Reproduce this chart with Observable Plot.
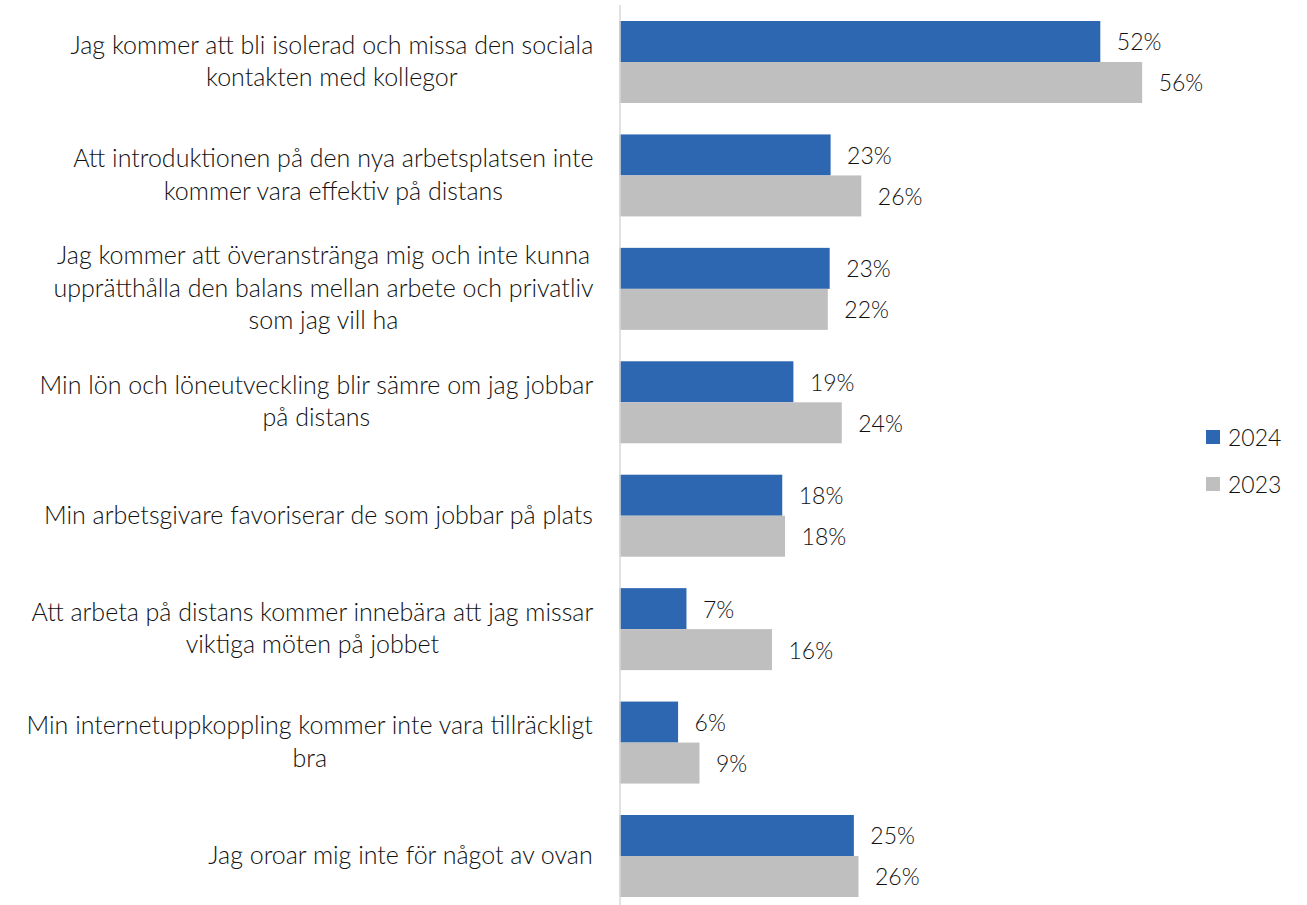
<!DOCTYPE html>
<html>
<head>
<meta charset="utf-8">
<script src="https://cdn.jsdelivr.net/npm/d3@7"></script>
<script src="https://cdn.jsdelivr.net/npm/@observablehq/plot@0.6"></script>
<style>
  html, body { margin: 0; padding: 0; background: #fff; }
  #wrap { position: relative; width: 1307px; height: 905px; }
  .legend { position: absolute; left: 1206px; font-family: Lato, "Open Sans", sans-serif; font-weight: 300; font-size: 23px; color: #111; display: flex; align-items: center; }
  .legend span.sw { display: inline-block; width: 14px; height: 14px; margin-right: 8px; }
</style>
</head>
<body>
<div id="wrap"></div>
<script>
const categories = [
  "Jag kommer att bli isolerad och missa den sociala\nkontakten med kollegor",
  "Att introduktionen på den nya arbetsplatsen inte\nkommer vara effektiv på distans",
  "Jag kommer att överanstränga mig och inte kunna\nupprätthålla den balans mellan arbete och privatliv\nsom jag vill ha",
  "Min lön och löneutveckling blir sämre om jag jobbar\npå distans",
  "Min arbetsgivare favoriserar de som jobbar på plats",
  "Att arbeta på distans kommer innebära att jag missar\nviktiga möten på jobbet",
  "Min internetuppkoppling kommer inte vara tillräckligt\nbra",
  "Jag oroar mig inte för något av ovan"
];
const years = ["2024", "2023"];
const values2024 = [51.7, 22.7, 22.6, 18.7, 17.5, 7.2, 6.3, 25.2];
const values2023 = [56.2, 26.0, 22.4, 23.9, 17.8, 16.4, 8.6, 25.7];
const colors = ["#2E67B1", "#BFBFBF"];

const data = [];
categories.forEach((c, i) => {
  data.push({category: c, year: "2024", value: values2024[i]});
  data.push({category: c, year: "2023", value: values2023[i]});
});

const FONT = "Lato";
const WEIGHT = 300;
const ctx = document.createElement("canvas").getContext("2d");
function measure(s, fs) { ctx.font = `${WEIGHT} ${fs}px ${FONT}`; return ctx.measureText(s).width; }
const labelFS = Math.min(25, 100 * 525 / measure("Jag kommer att bli isolerad och missa den sociala", 100));
const valueFS = 23;

const marginLeft = 619.5;
const labelRight = 593;

const labelMarks = categories.map(c => {
  const w = d3.max(c.split("\n"), l => measure(l, labelFS));
  return Plot.text([c], {
    fy: d => d,
    text: d => d,
    frameAnchor: "left",
    textAnchor: "middle",
    lineAnchor: "middle",
    lineHeight: 32.5 / labelFS,
    dx: (labelRight - marginLeft) - w / 2,
    dy: -3,
    fontSize: labelFS,
    fontWeight: WEIGHT,
    fill: "#111"
  });
});

const chart = Plot.plot({
  width: 1307,
  height: 905,
  marginLeft: marginLeft,
  marginRight: 129.5,
  marginTop: 13,
  marginBottom: 0,
  style: {fontFamily: FONT, background: "#fff"},
  x: {domain: [0, 60], axis: null},
  y: {domain: years, padding: 0, axis: null},
  fy: {domain: categories, paddingInner: 0.277, paddingOuter: 0.0705, round: false, axis: null},
  color: {domain: years, range: colors},
  marks: [
    Plot.barX(data, {x: "value", y: "year", fy: "category", fill: "year"}),
    Plot.ruleX([0], {stroke: "#D9D9D9", strokeWidth: 1.5, insetTop: -16, insetBottom: -16}),
    Plot.text(data, {
      x: "value", y: "year", fy: "category",
      text: d => Math.round(d.value) + "%",
      textAnchor: "start", dx: 16, dy: 1, fontSize: valueFS, fontWeight: WEIGHT, fill: "#111"
    }),
    ...labelMarks
  ]
});

const wrap = document.getElementById("wrap");
wrap.appendChild(chart);
years.forEach((y, i) => {
  const el = document.createElement("div");
  el.className = "legend";
  el.style.top = (i === 0 ? 423 : 470) + "px";
  el.innerHTML = `<span class="sw" style="background:${colors[i]}"></span><span>${y}</span>`;
  wrap.appendChild(el);
});
</script>
</body>
</html>
